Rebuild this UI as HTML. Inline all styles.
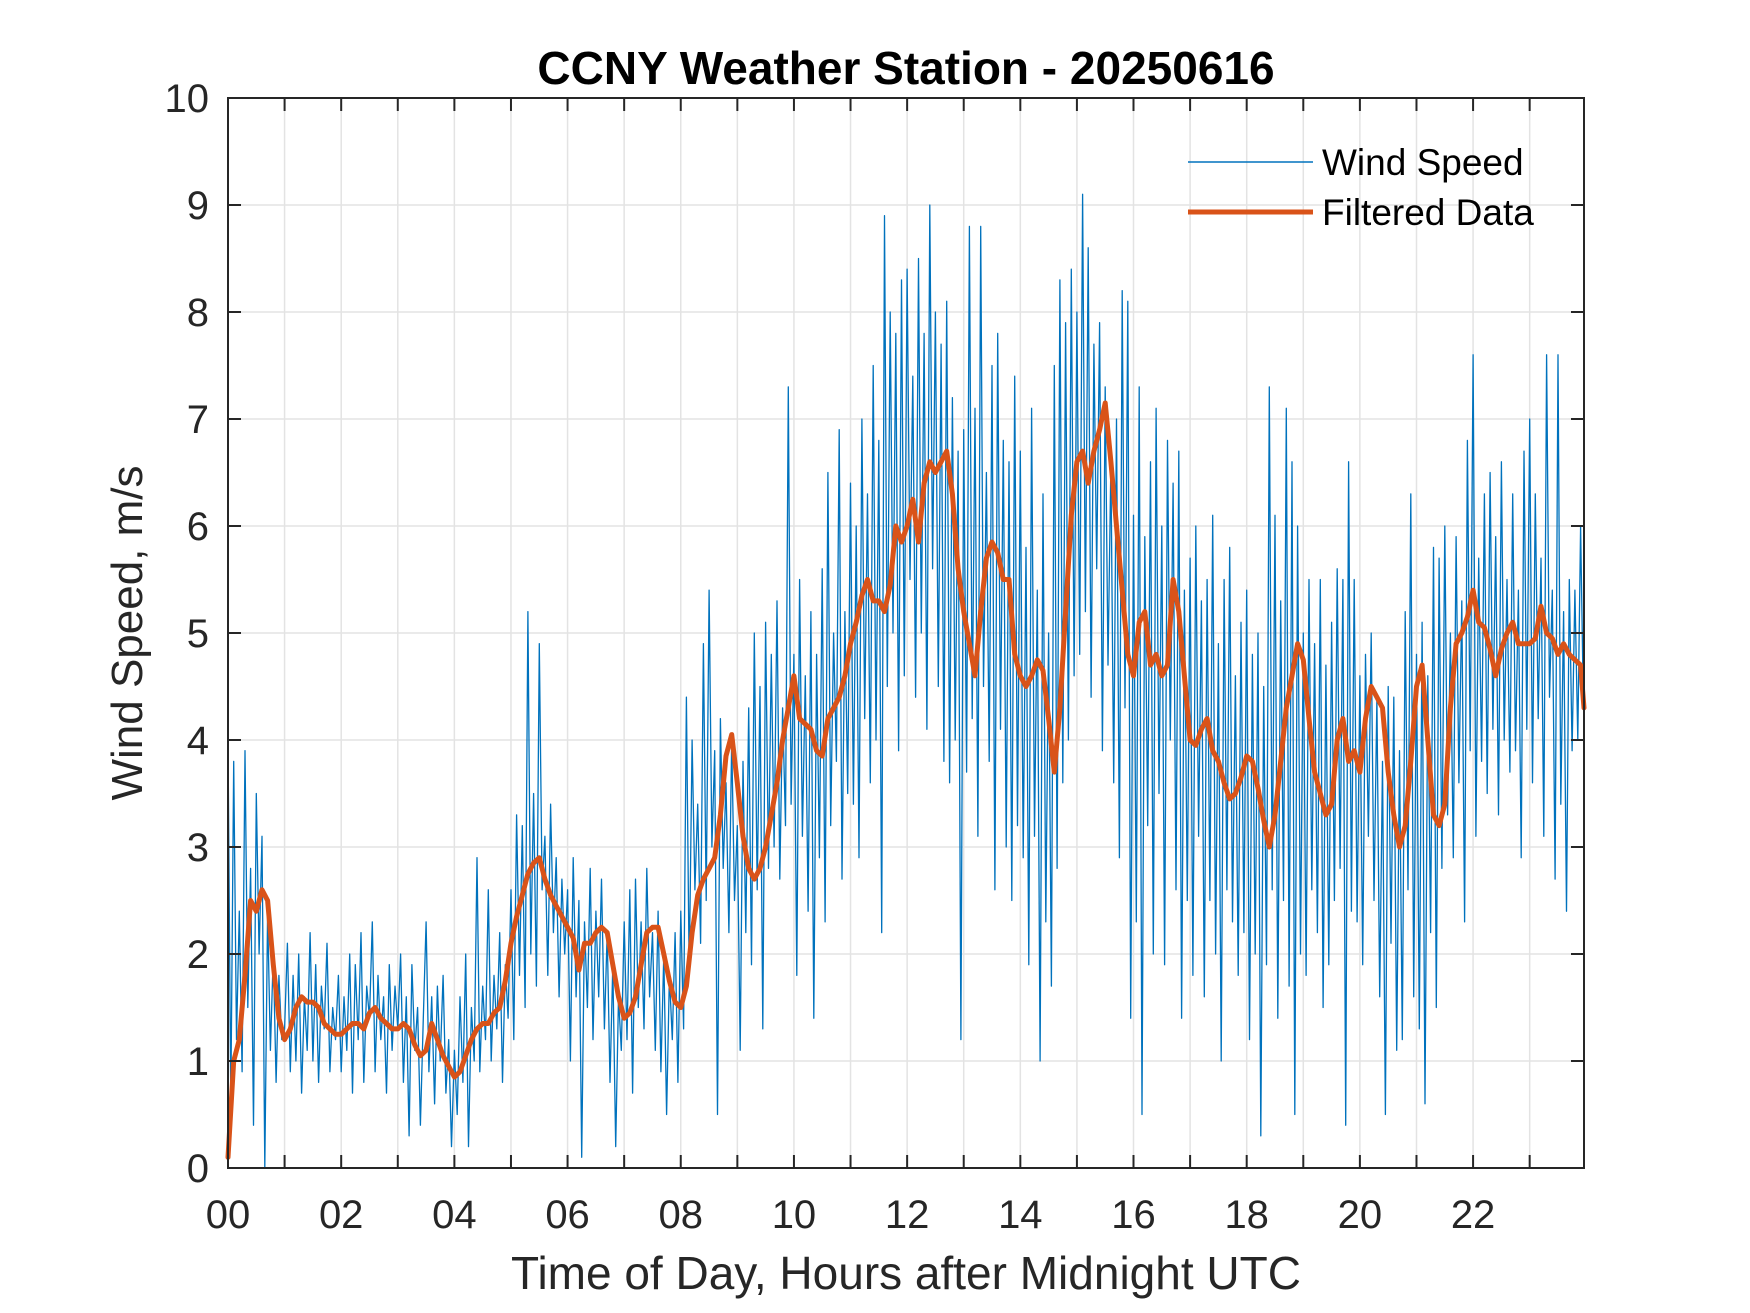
<!DOCTYPE html>
<html><head><meta charset="utf-8"><style>
html,body{margin:0;padding:0;background:#fff;}
svg{display:block;font-family:"Liberation Sans",Arial,sans-serif;}
</style></head>
<body>
<svg id="chart" width="1750" height="1313" viewBox="0 0 1750 1313" xmlns="http://www.w3.org/2000/svg">
<rect width="1750" height="1313" fill="#fff"/>
<g id="grid"></g>
<g id="series"></g>
<g id="axes"></g>
<text x="906" y="84" font-size="46" font-weight="bold" text-anchor="middle" fill="#000">CCNY Weather Station - 20250616</text>
<text x="906" y="1289" font-size="46" text-anchor="middle" fill="#262626">Time of Day, Hours after Midnight UTC</text>
<text transform="translate(142,633) rotate(-90)" font-size="44" text-anchor="middle" fill="#262626">Wind Speed, m/s</text>
<g>
<line x1="1188" y1="162" x2="1313" y2="162" stroke="#0072BD" stroke-width="1.5"/>
<text x="1322" y="175" font-size="37" fill="#000">Wind Speed</text>
<line x1="1188" y1="212" x2="1313" y2="212" stroke="#D95319" stroke-width="5"/>
<text x="1322" y="225" font-size="37" fill="#000">Filtered Data</text>
</g>
</svg>
<script>
const windSpeed = [
4.0,0.6,3.8,1.2,2.4,0.9,3.9,1.5,2.8,0.4,3.5,2.0,3.1,0.0,2.4,1.1,2.0,0.8,1.8,1.2,
1.3,2.1,0.9,1.8,1.0,2.0,0.7,1.6,1.1,2.2,1.0,1.9,0.8,1.7,1.3,2.1,0.9,1.5,1.2,1.8,
0.9,1.6,1.1,2.0,0.7,1.9,1.2,2.2,0.8,1.7,1.4,2.3,0.9,1.8,1.2,1.6,0.7,1.9,1.1,1.7,
1.3,2.0,0.8,1.6,0.3,1.9,1.1,1.5,0.4,1.4,2.3,0.9,1.6,0.6,1.7,1.0,1.8,0.7,1.2,0.2,
1.1,0.5,1.6,0.8,2.0,0.2,1.5,1.0,2.9,0.9,1.7,1.2,2.6,1.0,1.8,1.3,2.2,0.8,1.9,1.4,
2.6,1.2,3.3,1.8,3.2,1.5,5.2,2.0,3.5,1.7,4.9,2.6,3.1,1.8,3.4,2.2,2.9,1.6,2.7,2.0,
2.6,1.0,2.9,1.6,2.5,0.1,2.3,1.5,2.8,1.2,2.4,1.6,2.7,1.3,2.2,0.8,1.9,0.2,1.6,1.1,
2.3,1.2,2.6,0.7,2.7,1.5,2.3,1.3,2.8,1.6,2.2,1.1,2.4,0.9,2.0,0.5,1.8,1.2,2.2,0.8,
2.4,1.3,4.4,1.8,4.0,2.6,3.4,2.1,4.9,2.5,5.4,3.0,3.9,0.5,4.2,2.8,3.6,2.2,4.0,2.5,
3.2,1.1,3.8,2.2,4.3,1.9,5.0,2.6,4.5,1.3,5.1,2.8,4.8,3.0,5.3,2.7,4.3,3.2,7.3,3.4,
4.8,1.8,5.5,3.1,4.6,2.4,5.2,1.4,4.8,2.9,5.6,2.3,6.5,3.2,5.0,3.8,6.9,2.7,5.2,3.5,
6.4,3.4,6.0,2.9,7.0,4.2,6.3,3.6,7.5,4.0,6.8,2.2,8.9,4.5,8.0,5.0,7.8,3.9,8.3,4.6,
8.4,5.5,7.4,4.4,8.5,5.0,7.8,4.1,9.0,5.6,8.0,4.5,7.7,3.8,8.1,3.6,7.2,4.0,6.7,1.2,
6.9,3.7,8.8,4.2,7.1,3.1,8.8,4.5,6.5,3.8,7.5,2.6,7.8,4.1,6.8,3.0,6.6,2.5,7.4,3.2,
6.7,2.9,5.8,1.9,7.1,3.1,5.4,1.0,6.3,2.3,5.0,1.7,7.5,2.8,8.3,3.6,7.9,4.0,8.4,4.6,
8.0,4.8,9.1,5.2,8.6,4.4,7.7,5.6,7.9,3.9,7.3,4.7,6.6,3.6,7.0,2.9,8.2,4.3,8.1,1.4,
6.1,2.3,7.3,0.5,5.9,3.2,6.6,2.0,7.1,3.5,6.0,1.9,6.8,4.0,6.4,2.6,6.7,1.4,5.4,2.5,
5.7,1.8,6.0,3.1,5.3,1.6,5.5,2.5,6.1,2.0,4.9,1.0,5.5,2.6,5.8,2.3,4.6,1.8,5.1,2.2,
5.4,1.2,4.8,2.0,5.0,0.3,4.5,1.9,7.3,2.6,6.1,1.4,5.3,2.5,7.1,1.7,6.6,0.5,6.0,2.0,
5.0,1.8,5.5,2.6,4.9,2.2,5.5,1.5,4.7,1.9,5.1,2.5,5.6,2.8,5.5,0.4,6.6,2.4,5.5,2.3,
4.6,1.9,4.8,3.1,5.0,2.5,4.4,1.6,3.8,0.5,4.5,2.1,4.4,1.1,3.9,1.2,5.2,2.6,6.3,1.6,
4.8,1.3,5.1,0.6,4.6,2.2,5.8,1.5,5.7,2.8,6.0,3.3,5.0,2.9,5.9,3.6,5.3,2.3,6.8,3.9,
7.6,3.1,5.7,3.8,6.3,3.5,6.5,4.1,5.9,3.3,6.6,4.0,5.5,3.7,6.3,3.9,5.4,2.9,6.7,4.1,
7.0,3.6,6.3,4.2,5.7,3.1,7.6,4.4,5.4,2.7,7.6,3.4,5.2,2.4,5.5,3.9,5.4,4.0,6.0,4.3
];
const windStepHours = 0.05;
const filtered = [
0.1,1.0,1.2,1.8,2.5,2.4,2.6,2.5,1.9,1.4,
1.2,1.3,1.5,1.6,1.55,1.55,1.5,1.35,1.3,1.25,
1.25,1.3,1.35,1.35,1.3,1.45,1.5,1.4,1.35,1.3,
1.3,1.35,1.3,1.15,1.05,1.1,1.35,1.2,1.05,0.95,
0.85,0.9,1.05,1.2,1.3,1.35,1.35,1.45,1.5,1.75,
2.1,2.35,2.55,2.75,2.85,2.9,2.7,2.55,2.45,2.35,
2.25,2.15,1.85,2.1,2.1,2.2,2.25,2.2,1.9,1.6,
1.4,1.45,1.6,1.9,2.2,2.25,2.25,2.0,1.75,1.55,
1.5,1.7,2.2,2.55,2.7,2.8,2.9,3.3,3.85,4.05,
3.6,3.1,2.8,2.7,2.8,3.0,3.3,3.6,4.0,4.3,
4.6,4.2,4.15,4.1,3.9,3.85,4.2,4.3,4.4,4.6,
4.9,5.1,5.35,5.5,5.3,5.3,5.2,5.45,6.0,5.85,
6.0,6.25,5.85,6.4,6.6,6.5,6.6,6.7,6.3,5.6,
5.2,4.9,4.6,5.2,5.7,5.85,5.75,5.5,5.5,4.8,
4.6,4.5,4.6,4.75,4.65,4.2,3.7,4.3,5.2,6.1,
6.6,6.7,6.4,6.7,6.9,7.15,6.6,6.0,5.4,4.8,
4.6,5.1,5.2,4.7,4.8,4.6,4.7,5.5,5.2,4.6,
4.0,3.95,4.1,4.2,3.9,3.8,3.6,3.45,3.5,3.65,
3.85,3.8,3.55,3.25,3.0,3.3,3.8,4.3,4.6,4.9,
4.75,4.2,3.7,3.5,3.3,3.4,4.0,4.2,3.8,3.9,
3.7,4.2,4.5,4.4,4.3,3.7,3.3,3.0,3.2,3.8,
4.5,4.7,4.0,3.3,3.2,3.4,4.3,4.9,5.0,5.15,
5.4,5.1,5.05,4.85,4.6,4.85,5.0,5.1,4.9,4.9,
4.9,4.95,5.25,5.0,4.95,4.8,4.9,4.8,4.75,4.7,
4.3
];
const filteredStepHours = 0.1;
const xTickLabels = ["00","02","04","06","08","10","12","14","16","18","20","22"];
const yTickLabels = ["0","1","2","3","4","5","6","7","8","9","10"];
const xMax = 23.96, yMax = 10;

const L = 228, R = 1584, T = 98, B = 1168;
const NS = "http://www.w3.org/2000/svg";
function xs(h){ return L + (R - L) * Math.min(h, xMax) / xMax; }
function ys(v){ return B - (B - T) * v / yMax; }
function el(tag, attrs, parent){ const e = document.createElementNS(NS, tag); for (const k in attrs) e.setAttribute(k, attrs[k]); parent.appendChild(e); return e; }

const grid = document.getElementById('grid');
const axes = document.getElementById('axes');
const series = document.getElementById('series');

for (let h = 1; h < 24; h++) {
  const x = xs(h);
  const g = el('line', {x1:x, y1:T, x2:x, y2:B, stroke:'#e3e3e3', 'stroke-width':1.5}, grid);
  
  
}
for (let v = 1; v < 10; v++) {
  const y = ys(v);
  const g = el('line', {x1:L, y1:y, x2:R, y2:y, stroke:'#e3e3e3', 'stroke-width':1.5}, grid);
  
  
}

let d = '';
windSpeed.forEach((v, i) => { d += (i ? 'L' : 'M') + xs(i * windStepHours).toFixed(1) + ',' + ys(v).toFixed(1); });
const wl = el('path', {d:d, fill:'none', stroke:'#0072BD', 'stroke-width':1.3, 'stroke-linejoin':'round'}, series);



let d2 = '';
filtered.forEach((v, i) => { d2 += (i ? 'L' : 'M') + xs(i * filteredStepHours).toFixed(1) + ',' + ys(v).toFixed(1); });
const fl = el('path', {d:d2, fill:'none', stroke:'#D95319', 'stroke-width':5, 'stroke-linejoin':'round', 'stroke-linecap':'round'}, series);



const box = el('rect', {x:L, y:T, width:R-L, height:B-T, fill:'none', stroke:'#262626', 'stroke-width':2}, axes);



for (let h = 0; h < 24; h++) {
  const x = xs(h);
  const t1 = el('line', {x1:x, y1:B, x2:x, y2:B-13, stroke:'#262626', 'stroke-width':2}, axes);
  
  
  const t2 = el('line', {x1:x, y1:T, x2:x, y2:T+13, stroke:'#262626', 'stroke-width':2}, axes);
  
  
}
xTickLabels.forEach((lab, i) => {
  const t = el('text', {x:xs(i*2), y:1228, 'font-size':40, 'text-anchor':'middle', fill:'#262626'}, axes);
  t.textContent = lab;
  
  
});
yTickLabels.forEach((lab, i) => {
  const y = ys(i);
  const a = el('line', {x1:L, y1:y, x2:L+13, y2:y, stroke:'#262626', 'stroke-width':2}, axes);
  
  
  const b = el('line', {x1:R, y1:y, x2:R-13, y2:y, stroke:'#262626', 'stroke-width':2}, axes);
  
  
  const t = el('text', {x:209, y:y+14, 'font-size':40, 'text-anchor':'end', fill:'#262626'}, axes);
  t.textContent = lab;
  
  
});
</script>
</body></html>
